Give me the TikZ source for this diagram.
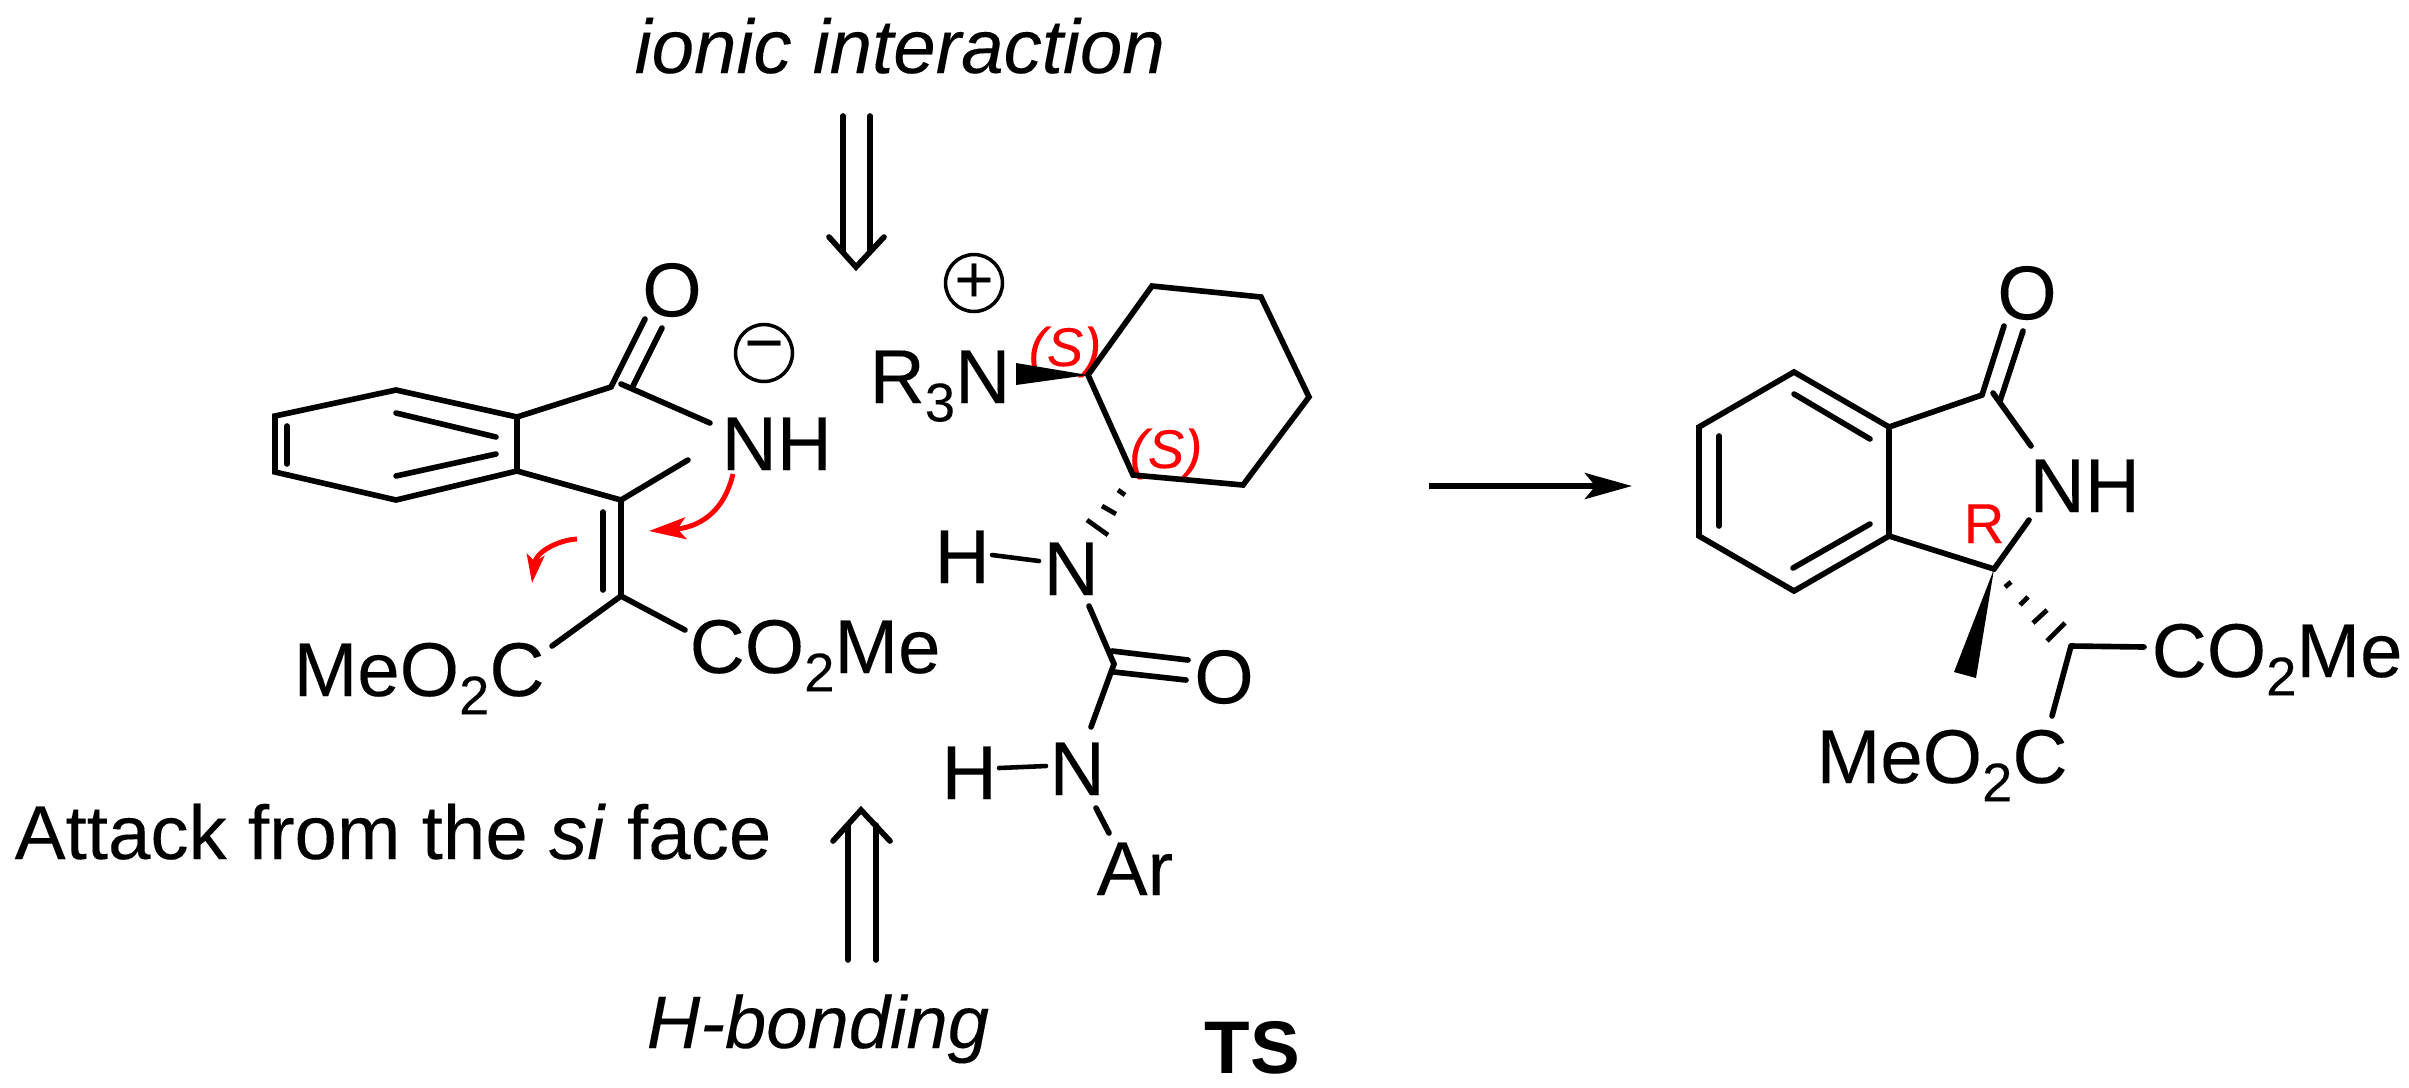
\documentclass[tikz,border=0pt]{standalone}
\usepackage{fontspec}
\setmainfont{Liberation Sans}[UprightFeatures={FakeBold=0.12}, ItalicFeatures={FakeBold=0.12}]
\usepackage{tikz}
\usetikzlibrary{arrows.meta}
\newcommand{\subtwo}{\raisebox{-0.24em}{\fontsize{15.5}{15.5}\selectfont 2}}
\newcommand{\subthree}{\raisebox{-0.24em}{\fontsize{15.5}{15.5}\selectfont 3}}
\tikzset{
	bond/.style = {line width=1.6pt, line cap=round, line join=miter},
	thinbond/.style = {line width=1.3pt, line cap=round},
	hash/.style = {line width=1.35pt},
	wedge/.style = {fill=black, draw=none},
	label/.style = {inner sep=0pt, anchor=base west, font=\fontsize{21.7}{25}\selectfont},
	redlabel/.style = {inner sep=0pt, anchor=base, text=red},
	charge/.style = {draw, circle, line width=1pt, minimum size=16.2pt, inner sep=0pt,
		font=\fontsize{19}{19}\selectfont},
	curly/.style = {red, line width=1.4pt}
}

\begin{document}
\begin{tikzpicture}[x=0.01cm, y=-0.01cm]
	\useasboundingbox (0,0) rectangle (2409,1087);

	% captions
	\node (ionic) [label] at (634,73) {\itshape ionic interaction};
	\node (attack) [label] at (14,859) {Attack from the \textit{si} face};
	\node (hbond) [label, font=\fontsize{21.1}{25}\selectfont] at (646,1048) {\itshape H-bonding};
	\node (ts) [label, font=\fontsize{21.2}{25}\selectfont] at (1204,1073) {\bfseries TS};

	% open arrows
	\coordinate (dna) at (843,116);
	\coordinate (dnb) at (870,116);
	\coordinate (dnc) at (843,251);
	\coordinate (dnd) at (870,251);
	\coordinate (dntip) at (856,267);
	\draw [ bond ] (dna) to (dnc);
	\draw [ bond ] (dnb) to (dnd);
	\draw [ bond ] (829,237) -- (dntip) -- (884,237);
	\coordinate (upa) at (848,960);
	\coordinate (upb) at (876,960);
	\coordinate (upc) at (848,825);
	\coordinate (upd) at (876,825);
	\coordinate (uptip) at (861,810);
	\draw [ bond ] (upa) to (upc);
	\draw [ bond ] (upb) to (upd);
	\draw [ bond ] (833,841) -- (uptip) -- (890,841);

	% substrate
	\coordinate (a1) at (396,390);
	\coordinate (a2) at (517,417);
	\coordinate (a3) at (517,471);
	\coordinate (a4) at (396,500);
	\coordinate (a5) at (275,472);
	\coordinate (a6) at (275,416);
	\coordinate (co) at (621,384);
	\coordinate (cl) at (621,500);
	\coordinate (cm) at (621,596);
	\draw [ bond ] (a1) -- (a2) -- (a3) -- (a4) -- (a5) -- (a6) -- cycle;
	\draw [ bond ] (396,413) to (496,437);
	\draw [ bond ] (396,476) to (496,454);
	\draw [ bond ] (287,426) to (287,464);
	\draw [ bond ] (a2) to (611,387);
	\draw [ bond ] (611,387) to (645,319);
	\draw [ bond ] (633,386) to (662,328);
	\draw [ bond ] (co) to (710,423);
	\draw [ bond ] (a3) to (cl);
	\draw [ bond ] (cl) to (688,460);
	\draw [ bond ] (cl) to (cm);
	\draw [ bond ] (603,512) to (603,590);
	\draw [ bond ] (cm) to (552,646);
	\draw [ bond ] (cm) to (685,630);
	\node (o1) [label, anchor=center] at (672,290) {O};
	\node (nh1) [label] at (721,470) {NH};
	\node (minus) [charge] at (764,353) {−};
	\node (es1) [label] at (293,696) {MeO\subtwo C};
	\node (es2) [label] at (689,673) {CO\subtwo Me};

	% electron pushing
	\draw [ curly, -{Stealth[length=10.5pt, width=6.2pt, inset=2.4pt]} ] (733,474)
		.. controls (722,520) and (690,528) .. (649,531);
	\draw [ curly, -{Stealth[length=8pt, width=5pt, inset=1.8pt]} ] (577,539)
		.. controls (558,540) and (536,552) .. (532,583);

	% catalyst
	\node (plus) [charge] at (974,283) {+};
	\node (r3n) [label] at (869,403) {R\subthree N};
	\coordinate (b1) at (1088,375);
	\coordinate (b2) at (1152,286);
	\coordinate (b3) at (1261,297);
	\coordinate (b4) at (1309,397);
	\coordinate (b5) at (1243,485);
	\coordinate (b6) at (1133,475);
	\node (s1) [redlabel, font=\fontsize{15.5}{18}\selectfont\itshape] at (1065,366) {(S)};
	\node (s2) [redlabel, font=\fontsize{15.5}{18}\selectfont\itshape] at (1166,468) {(S)};
	\draw [ bond ] (b1) -- (b2) -- (b3) -- (b4) -- (b5) -- (b6) -- cycle;
	\fill [ wedge ] (b1) -- (1016,363) -- (1016,385) -- cycle;
	\draw [ hash ] (1118,490) to (1125,495);
	\draw [ hash ] (1102,506) to (1116,514);
	\draw [ hash ] (1087,520) to (1108,535);
	\node (h2) [label] at (934,583) {H};
	\node (n2) [label] at (1043,595) {N};
	\coordinate (cu) at (1114,664);
	\draw [ thinbond ] (992,555) to (1039,561);
	\draw [ bond ] (1089,606) to (cu);
	\draw [ bond ] (1112,651) to (1188,660);
	\draw [ bond ] (1114,672) to (1186,680);
	\draw [ bond ] (cu) to (1091,727);
	\node (o2) [label, anchor=center] at (1224,677) {O};
	\node (h3) [label] at (941,799) {H};
	\node (n3) [label] at (1049,795) {N};
	\draw [ thinbond ] (999,768) to (1046,766);
	\draw [ bond ] (1096,808) to (1109,833);
	\node (ar) [label] at (1096,895) {Ar};

	% reaction arrow
	\coordinate (rxa) at (1429,486);
	\coordinate (rxb) at (1632,486);
	\draw [ bond, line cap=butt, -{Stealth[length=13.4pt, width=7.4pt, inset=3pt]} ] (rxa) to (rxb);

	% product
	\coordinate (p1) at (1794,372);
	\coordinate (p2) at (1889,427);
	\coordinate (p3) at (1889,536);
	\coordinate (p4) at (1794,591);
	\coordinate (p5) at (1699,536);
	\coordinate (p6) at (1699,427);
	\coordinate (pc) at (1993,393);
	\coordinate (pq) at (1994,569);
	\coordinate (pch) at (2071,646);
	\draw [ bond ] (p1) -- (p2) -- (p3) -- (p4) -- (p5) -- (p6) -- cycle;
	\draw [ bond ] (1794,394) to (1870,439);
	\draw [ bond ] (1870,524) to (1793,568);
	\draw [ bond ] (1719,436) to (1719,526);
	\draw [ bond ] (p2) to (1982,395);
	\draw [ bond ] (1982,395) to (2004,326);
	\draw [ bond ] (2000,401) to (2023,331);
	\draw [ bond ] (pc) to (2031,446);
	\draw [ bond ] (p3) to (pq);
	\draw [ bond ] (pq) to (2029,520);
	\fill [ wedge ] (pq) -- (1954,672) -- (1976,678) -- cycle;
	\draw [ hash ] (2005,587) to (2011,582);
	\draw [ hash ] (2020,605) to (2028,597);
	\draw [ hash ] (2033,623) to (2047,610);
	\draw [ hash ] (2047,641) to (2065,623);
	\draw [ bond ] (pch) to (2144,647);
	\draw [ bond ] (pch) to (2052,716);
	\node (o3) [label, anchor=center] at (2027,293) {O};
	\node (nh3) [label] at (2029,512) {NH};
	\node (r) [redlabel, font=\fontsize{16}{18}\selectfont] at (1984,543) {R};
	\node (es3) [label] at (2151,677) {CO\subtwo Me};
	\node (es4) [label] at (1816,783) {MeO\subtwo C};
\end{tikzpicture}
\end{document}
